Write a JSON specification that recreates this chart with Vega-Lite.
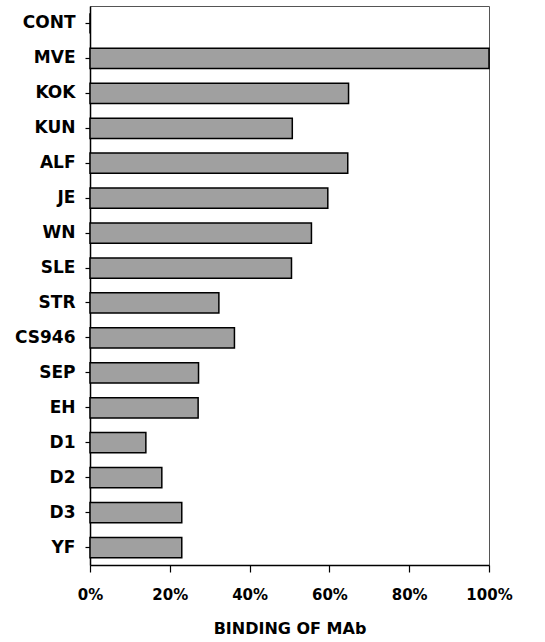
{
  "$schema": "https://vega.github.io/schema/vega-lite/v6.json",
  "autosize": "none",
  "width": 399,
  "height": 559,
  "padding": {"left": 90, "top": 6, "right": 56, "bottom": 77},
  "background": "white",
  "config": {
    "view": {"stroke": "#555", "strokeWidth": 1},
    "font": "DejaVu Sans"
  },
  "data": {
    "values": [
      {"virus": "CONT", "binding": 0},
      {"virus": "MVE", "binding": 100},
      {"virus": "KOK", "binding": 64.8},
      {"virus": "KUN", "binding": 50.7},
      {"virus": "ALF", "binding": 64.6},
      {"virus": "JE", "binding": 59.6},
      {"virus": "WN", "binding": 55.5},
      {"virus": "SLE", "binding": 50.5},
      {"virus": "STR", "binding": 32.3},
      {"virus": "CS946", "binding": 36.2},
      {"virus": "SEP", "binding": 27.2},
      {"virus": "EH", "binding": 27.1},
      {"virus": "D1", "binding": 14.0},
      {"virus": "D2", "binding": 18.0},
      {"virus": "D3", "binding": 23.0},
      {"virus": "YF", "binding": 23.0}
    ]
  },
  "mark": {"type": "bar", "fill": "#a0a0a0", "stroke": "black", "strokeWidth": 1.5},
  "encoding": {
    "y": {
      "field": "virus",
      "type": "nominal",
      "sort": null,
      "scale": {"paddingInner": 0.42, "paddingOuter": 0.21},
      "axis": {
        "title": null,
        "labelFont": "DejaVu Sans",
        "labelFontWeight": "bold",
        "labelFontSize": 17,
        "labelColor": "black",
        "labelPadding": 10,
        "tickSize": 5,
        "tickColor": "black",
        "tickWidth": 1.2,
        "domainColor": "black",
        "domainWidth": 1.5
      }
    },
    "x": {
      "field": "binding",
      "type": "quantitative",
      "scale": {"domain": [0, 100], "nice": false},
      "axis": {
        "title": "BINDING OF MAb",
        "values": [0, 20, 40, 60, 80, 100],
        "labelExpr": "datum.value + '%'",
        "grid": false,
        "labelFont": "DejaVu Sans",
        "labelFontWeight": "bold",
        "labelFontSize": 15,
        "labelColor": "black",
        "labelPadding": 15,
        "labelFlush": false,
        "tickSize": 7,
        "tickColor": "black",
        "tickWidth": 1.2,
        "domainColor": "black",
        "domainWidth": 1.5,
        "titleFont": "DejaVu Sans",
        "titleFontWeight": "bold",
        "titleFontSize": 16,
        "titleColor": "black",
        "titlePadding": 18
      }
    }
  }
}
